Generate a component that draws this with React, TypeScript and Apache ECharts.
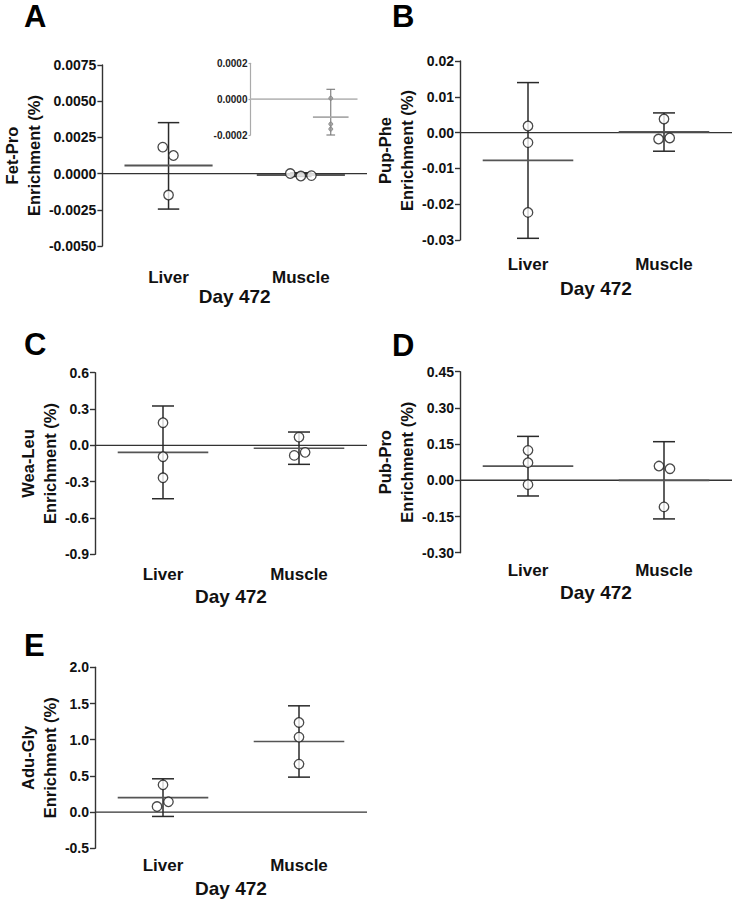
import React, { useEffect, useRef } from 'react';
import * as echarts from 'echarts';

// ---------- data ----------
const categories = ['Liver', 'Muscle'];
const xTitle = 'Day 472';

// A: Fet-Pro
const fetProLiver = [0.00183, 0.00125, -0.00148];
const fetProMuscle = [0.000005, -0.000167, -0.000139];
const fetProMean = [0.00056, -0.0001];
const fetProLow = [-0.00245, -0.0002];
const fetProHigh = [0.00352, 0.000055];

// B: Pup-Phe
const pupPheLiver = [0.00184, -0.0028, -0.0223];
const pupPheMuscle = [0.0038, -0.0018, -0.0015];
const pupPheMean = [-0.00774, 0.0002];
const pupPheLow = [-0.02953, -0.0052];
const pupPheHigh = [0.01397, 0.0055];

// C: Wea-Leu
const weaLeuLiver = [0.187, -0.094, -0.268];
const weaLeuMuscle = [0.068, -0.083, -0.058];
const weaLeuMean = [-0.058, -0.024];
const weaLeuLow = [-0.441, -0.157];
const weaLeuHigh = [0.325, 0.11];

// D: Pub-Pro
const pubProLiver = [0.124, 0.073, -0.018];
const pubProMuscle = [0.059, 0.048, -0.11];
const pubProMean = [0.059, 0.0];
const pubProLow = [-0.065, -0.16];
const pubProHigh = [0.182, 0.16];

// E: Adu-Gly
const aduGlyLiver = [0.377, 0.077, 0.142];
const aduGlyMuscle = [1.238, 1.036, 0.663];
const aduGlyMean = [0.2, 0.975];
const aduGlyLow = [-0.06, 0.483];
const aduGlyHigh = [0.46, 1.468];

// jitter of the points (category units)
const jitA = [[-0.044, 0.037, 0], [-0.08, 0, 0.08]];
const jitB = [[0, 0, 0], [0, -0.04, 0.042]];
const jitC = [[0, 0, 0], [0, -0.035, 0.045]];
const jitD = [[0, 0, 0], [-0.037, 0.044, 0]];
const jitE = [[0, -0.044, 0.04], [0, 0, 0]];
const jitInset = [[0, 0, 0], [0, 0, 0]];

// ---------- styling / layout ----------
const FONT = '"Liberation Sans", Arial, sans-serif';
const MEAN_HALF = 0.333;
const CAP_HALF = 0.081;
const X_MIN = 0.5;
const X_MAX = 2.5;

type Panel = {
  letter: string;
  yName: string;
  liver: number[];
  muscle: number[];
  jit: number[][];
  mean: number[];
  low: number[];
  high: number[];
  yMin: number;
  yMax: number;
  yStep: number;
  dec: number;
  left: number;
  top: number;
  height: number;
  nameGap: number;
  catMargin: number;
  titleGap: number;
  lx: number;
  ly: number;
};

const W = 272;

const panels: Panel[] = [
  { letter: 'A', yName: 'Fet-Pro\nEnrichment (%)', liver: fetProLiver, muscle: fetProMuscle, jit: jitA,
    mean: fetProMean, low: fetProLow, high: fetProHigh, yMin: -0.005, yMax: 0.0075, yStep: 0.0025, dec: 4,
    left: 95, top: 65, height: 181, nameGap: 75, catMargin: 31, titleGap: 50, lx: 24, ly: 16 },
  { letter: 'B', yName: 'Pup-Phe\nEnrichment (%)', liver: pupPheLiver, muscle: pupPheMuscle, jit: jitB,
    mean: pupPheMean, low: pupPheLow, high: pupPheHigh, yMin: -0.03, yMax: 0.02, yStep: 0.01, dec: 2,
    left: 460, top: 61, height: 179, nameGap: 59, catMargin: 24.5, titleGap: 48, lx: 392, ly: 16 },
  { letter: 'C', yName: 'Wea-Leu\nEnrichment (%)', liver: weaLeuLiver, muscle: weaLeuMuscle, jit: jitC,
    mean: weaLeuMean, low: weaLeuLow, high: weaLeuHigh, yMin: -0.9, yMax: 0.6, yStep: 0.3, dec: 1,
    left: 95, top: 372.7, height: 181.6, nameGap: 53.5, catMargin: 19.7, titleGap: 41.7, lx: 24, ly: 344 },
  { letter: 'D', yName: 'Pub-Pro\nEnrichment (%)', liver: pubProLiver, muscle: pubProMuscle, jit: jitD,
    mean: pubProMean, low: pubProLow, high: pubProHigh, yMin: -0.3, yMax: 0.45, yStep: 0.15, dec: 2,
    left: 460, top: 371.7, height: 181, nameGap: 59.5, catMargin: 17.3, titleGap: 39.5, lx: 392, ly: 345 },
  { letter: 'E', yName: 'Adu-Gly\nEnrichment (%)', liver: aduGlyLiver, muscle: aduGlyMuscle, jit: jitE,
    mean: aduGlyMean, low: aduGlyLow, high: aduGlyHigh, yMin: -0.5, yMax: 2.0, yStep: 0.5, dec: 1,
    left: 95, top: 667.3, height: 181, nameGap: 48.5, catMargin: 17, titleGap: 39.7, lx: 24, ly: 645 },
];

const inset = {
  mean: [NaN, fetProMean[1]],
  low: [NaN, fetProLow[1]],
  high: [NaN, fetProHigh[1]],
  muscle: fetProMuscle,
  yMin: -0.0002, yMax: 0.0002, yStep: 0.0002, dec: 4,
  left: 250.5, top: 63.3, height: 71.7, width: 107,
};

function fmt(step: number, dec: number) {
  return (v: number) => (Math.abs(v) < step / 1000 ? 0 : v).toFixed(dec);
}

function errorBarSeries(xAxisIndex: number, yAxisIndex: number, mean: number[], low: number[], high: number[],
  barColor: string, meanColor: string, barW: number, meanW: number) {
  const data: number[][] = [];
  mean.forEach((m, i) => {
    if (!isNaN(m)) data.push([i + 1, m, low[i], high[i]]);
  });
  return {
    type: 'custom',
    xAxisIndex, yAxisIndex,
    silent: true,
    z: 3,
    data,
    renderItem: (_p: any, api: any) => {
      const x = api.value(0), m = api.value(1), lo = api.value(2), hi = api.value(3);
      const unit = api.size([1, 0])[0];
      const pm = api.coord([x, m]);
      const pl = api.coord([x, lo]);
      const ph = api.coord([x, hi]);
      const hw = unit * MEAN_HALF, cw = unit * CAP_HALF;
      const bs = { stroke: barColor, lineWidth: barW, fill: 'none' };
      return {
        type: 'group',
        children: [
          { type: 'line', shape: { x1: pl[0], y1: pl[1], x2: ph[0], y2: ph[1] }, style: bs },
          { type: 'line', shape: { x1: ph[0] - cw, y1: ph[1], x2: ph[0] + cw, y2: ph[1] }, style: bs },
          { type: 'line', shape: { x1: pl[0] - cw, y1: pl[1], x2: pl[0] + cw, y2: pl[1] }, style: bs },
          { type: 'line', shape: { x1: pm[0] - hw, y1: pm[1], x2: pm[0] + hw, y2: pm[1] },
            style: { stroke: meanColor, lineWidth: meanW, fill: 'none' } },
        ],
      };
    },
  };
}

function pointsData(liver: number[], muscle: number[], jit: number[][]) {
  const out: number[][] = [];
  liver.forEach((v, i) => out.push([1 + jit[0][i], v]));
  muscle.forEach((v, i) => out.push([2 + jit[1][i], v]));
  return out;
}

function buildOption() {
  const grid: any[] = [];
  const xAxis: any[] = [];
  const yAxis: any[] = [];
  const series: any[] = [];
  const graphic: any[] = [];

  panels.forEach((p, gi) => {
    grid.push({ left: p.left, top: p.top, width: W, height: p.height, containLabel: false });
    xAxis.push({
      type: 'category', gridIndex: gi, data: categories, boundaryGap: true, position: 'bottom',
      axisLine: { show: false, onZero: false }, axisTick: { show: false }, splitLine: { show: false },
      axisLabel: { margin: p.catMargin, fontSize: 17, fontWeight: 'bold', color: '#111', fontFamily: FONT, verticalAlign: 'middle' },
      name: xTitle, nameLocation: 'middle', nameGap: p.titleGap,
      nameTextStyle: { fontSize: 19, fontWeight: 'bold', color: '#111', fontFamily: FONT, verticalAlign: 'middle' },
    });
    const valIdx = xAxis.length;
    xAxis.push({ type: 'value', gridIndex: gi, min: X_MIN, max: X_MAX, show: false });
    const yIdx = yAxis.length;
    yAxis.push({
      type: 'value', gridIndex: gi, min: p.yMin, max: p.yMax, interval: p.yStep,
      axisLine: { show: true, onZero: false, lineStyle: { color: '#333', width: 1.4 } },
      axisTick: { show: true, length: 5, lineStyle: { color: '#333', width: 1.4 } },
      splitLine: { show: false },
      axisLabel: { margin: 6, fontSize: 14, fontWeight: 'bold', color: '#111', fontFamily: FONT, formatter: fmt(p.yStep, p.dec) },
      name: p.yName, nameLocation: 'middle', nameGap: p.nameGap,
      nameTextStyle: { fontSize: 16.5, fontWeight: 'bold', color: '#111', fontFamily: FONT, lineHeight: 22, align: 'center', verticalAlign: 'middle' },
    });
    series.push({
      type: 'line', xAxisIndex: valIdx, yAxisIndex: yIdx, data: [[X_MIN, 0], [X_MAX, 0]],
      symbol: 'none', silent: true, z: 2, lineStyle: { color: '#333', width: 1.4 },
    });
    series.push(errorBarSeries(valIdx, yIdx, p.mean, p.low, p.high, '#2a2a2a', '#555', 1.5, gi === 0 ? 2 : 1.7));
    series.push({
      type: 'scatter', xAxisIndex: valIdx, yAxisIndex: yIdx, data: pointsData(p.liver, p.muscle, p.jit),
      symbol: 'circle', symbolSize: 9.5, z: 5, silent: true,
      itemStyle: { color: '#fff', borderColor: '#1a1a1a', borderWidth: 1.3 },
    });
    graphic.push({
      type: 'text', x: p.lx, y: p.ly,
      style: { text: p.letter, fontSize: 31, lineHeight: 24, fontWeight: 'bold', fill: '#000', fontFamily: FONT, verticalAlign: 'middle', align: 'left' },
    });
  });

  // inset for panel A
  const gi = grid.length;
  grid.push({ left: inset.left, top: inset.top, width: inset.width, height: inset.height, containLabel: false });
  const ix = xAxis.length;
  xAxis.push({ type: 'value', gridIndex: gi, min: X_MIN, max: X_MAX, show: false });
  const iy = yAxis.length;
  yAxis.push({
    type: 'value', gridIndex: gi, min: inset.yMin, max: inset.yMax, interval: inset.yStep,
    axisLine: { show: true, onZero: false, lineStyle: { color: '#aaa', width: 1.2 } },
    axisTick: { show: true, length: 2, lineStyle: { color: '#aaa', width: 1.2 } },
    splitLine: { show: false },
    axisLabel: { margin: 3, fontSize: 10, fontWeight: 'bold', color: '#222', fontFamily: FONT, formatter: fmt(inset.yStep, inset.dec) },
  });
  series.push({
    type: 'line', xAxisIndex: ix, yAxisIndex: iy, data: [[X_MIN, 0], [X_MAX, 0]],
    symbol: 'none', silent: true, z: 2, lineStyle: { color: '#bbb', width: 1.6 },
  });
  series.push(errorBarSeries(ix, iy, inset.mean, inset.low, inset.high, '#777', '#aaa', 1.1, 1.6));
  series.push({
    type: 'scatter', xAxisIndex: ix, yAxisIndex: iy,
    data: inset.muscle.map((v, i) => [2 + jitInset[1][i], v]),
    symbol: 'circle', symbolSize: 4, z: 5, silent: true,
    itemStyle: { color: '#999', borderColor: '#777', borderWidth: 0.8 },
  });

  return {
    animation: false,
    backgroundColor: '#fff',
    textStyle: { fontFamily: FONT },
    grid, xAxis, yAxis, series, graphic,
  };
}

export default function App() {
  const ref = useRef<HTMLDivElement>(null);
  useEffect(() => {
    if (!ref.current) return;
    const chart = echarts.init(ref.current, undefined, { renderer: 'svg' });
    chart.setOption(buildOption() as any);
    return () => chart.dispose();
  }, []);
  return <div ref={ref} style={{ position: 'absolute', left: 0, top: 0, width: 736, height: 902 }} />;
}
